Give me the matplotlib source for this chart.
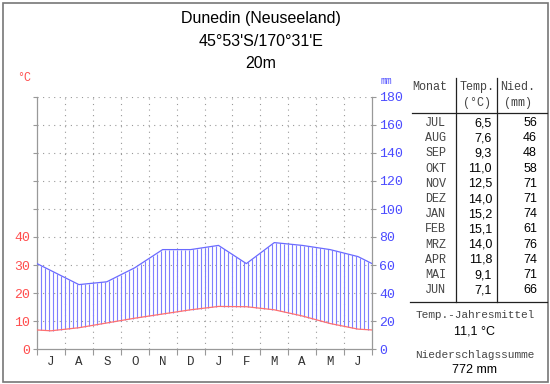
import matplotlib
matplotlib.use("Agg")
import matplotlib.pyplot as plt
import numpy as np

# Klimadaten Dunedin (Juli bis Juni)
monat = ['JUL', 'AUG', 'SEP', 'OKT', 'NOV', 'DEZ', 'JAN', 'FEB', 'MRZ', 'APR', 'MAI', 'JUN']
monat_kurz = ['J', 'A', 'S', 'O', 'N', 'D', 'J', 'F', 'M', 'A', 'M', 'J']
temp = [6.5, 7.6, 9.3, 11.0, 12.5, 14.0, 15.2, 15.1, 14.0, 11.8, 9.1, 7.1]
nied = [56, 46, 48, 58, 71, 71, 74, 61, 76, 74, 71, 66]
nied_ticks = [0, 20, 40, 60, 80, 100, 120, 140, 160, 180]
titel = ['Dunedin (Neuseeland)', "45°53'S/170°31'E", '20m']
jahresmittel = '11,1 °C'
jahressumme = '772 mm'

W, H = 550, 384
ROT = '#ff4d4d'
BLAU = '#4b4bff'
GRAU = '#999999'
MONO = 'Liberation Mono'
SANS = 'Liberation Sans'

fig = plt.figure(figsize=(W / 100, H / 100), dpi=100)
fig.patch.set_facecolor('white')


def px(x, y):
    # Pixelkoordinaten (oben links) -> Figurkoordinaten
    return x / W, 1 - y / H


# Rahmen um das ganze Bild
fig.add_artist(plt.Rectangle((2.5 / W, 2.5 / H), (W - 5) / W, (H - 5) / H,
                             transform=fig.transFigure, fill=False,
                             edgecolor='#777777', linewidth=1.2))

# Diagrammbereich
x0, x1, y0, y1 = 37, 372, 349, 97
ax = fig.add_axes([x0 / W, 1 - y0 / H, (x1 - x0) / W, (y0 - y1) / H])
ax.set_xlim(0, 12)
ax.set_ylim(0, 180)

# Werte an den Monatsmitten, Ränder als Mittel aus Juni und Juli
xm = np.arange(12) + 0.5
rand_t = (temp[0] + temp[-1]) / 2
rand_n = (nied[0] + nied[-1]) / 2
xs = np.concatenate([[0], xm, [12]])
ts = np.concatenate([[rand_t], temp, [rand_t]]) * 2  # 10 °C = 20 mm
ns = np.concatenate([[rand_n], nied, [rand_n]])

# humide Schraffur
xh = np.arange(0, 12.001, 1 / 7)
ax.vlines(xh, np.interp(xh, xs, ts), np.interp(xh, xs, ns),
          color='#7f7fff', linewidth=0.8, zorder=2)
ax.plot(xs, ns, color='#6a6aff', linewidth=0.9, zorder=3)
ax.plot(xs, ts, color='#ff7070', linewidth=0.9, zorder=3)

# Gitter
for v in range(1, 12):
    ax.plot([v, v], [0, 180], color=GRAU, linestyle=(0, (1, 4)), linewidth=0.8, zorder=1)
for v in nied_ticks[1:]:
    ax.plot([0, 12], [v, v], color=GRAU, linestyle=(0, (1, 4)), linewidth=0.8, zorder=1)

ax.spines['top'].set_visible(False)
for s in ['left', 'right', 'bottom']:
    ax.spines[s].set_color(GRAU)
    ax.spines[s].set_linewidth(0.9)

ax.set_xticks(range(13))
ax.set_xticklabels([])
ax.set_xticks(xm, minor=True)
ax.set_xticklabels(monat_kurz, minor=True, fontfamily=MONO, fontsize=9, color='#333333')
ax.tick_params(axis='x', which='major', length=4, color=GRAU, direction='out')
ax.tick_params(axis='x', which='minor', length=0, pad=5)

ax.set_yticks(nied_ticks)
ax.set_yticklabels([str(t // 2) if t <= 80 else '' for t in nied_ticks],
                   fontfamily=MONO, fontsize=9.5, color=ROT)
ax.tick_params(axis='y', length=3, color=GRAU, pad=2)

ax2 = ax.twinx()
ax2.set_ylim(0, 180)
ax2.set_yticks(nied_ticks)
ax2.set_yticklabels([str(t) for t in nied_ticks], fontfamily=MONO, fontsize=9.5, color=BLAU)
ax2.tick_params(axis='y', length=3, color=GRAU, pad=2)
for s in ax2.spines.values():
    s.set_visible(False)

fig.text(*px(24, 78), '°C', color=ROT, fontfamily=MONO, fontsize=8.5, ha='center', va='center')
fig.text(*px(386, 81), 'mm', color=BLAU, fontfamily=MONO, fontsize=7, ha='center', va='center')

# Titel
for zeile, y in zip(titel, [18, 42, 63]):
    fig.text(*px(261, y), zeile, fontfamily=SANS, fontsize=11.5, ha='center', va='center')

# Tabelle
kopf = dict(fontfamily=MONO, fontsize=8.5, color='#444444', ha='center', va='center')
fig.text(*px(430, 87), 'Monat', **kopf)
fig.text(*px(477, 87), 'Temp.', **kopf)
fig.text(*px(518, 87), 'Nied.', **kopf)
fig.text(*px(477, 103), '(°C)', **kopf)
fig.text(*px(518, 103), '(mm)', **kopf)

for i, (m, t, n) in enumerate(zip(monat, temp, nied)):
    y = 123 + i * 15.2
    fig.text(*px(446, y), m, fontfamily=MONO, fontsize=8.5, color='#444444', ha='right', va='center')
    fig.text(*px(492, y), f'{t:.1f}'.replace('.', ','), fontfamily=SANS, fontsize=9,
             ha='right', va='center')
    fig.text(*px(537, y), str(n), fontfamily=SANS, fontsize=9, ha='right', va='center')

linie = dict(color='#222222', linewidth=0.9)
fig.add_artist(plt.Line2D([412 / W, 547 / W], [1 - 113 / H] * 2, transform=fig.transFigure, **linie))
fig.add_artist(plt.Line2D([410 / W, 547 / W], [1 - 302 / H] * 2, transform=fig.transFigure, **linie))
fig.add_artist(plt.Line2D([456 / W] * 2, [1 - 78 / H, 1 - 302 / H], transform=fig.transFigure, **linie))
fig.add_artist(plt.Line2D([497 / W] * 2, [1 - 78 / H, 1 - 302 / H], transform=fig.transFigure, **linie))

fuss = dict(fontfamily=MONO, fontsize=8, color='#444444', ha='center', va='center')
fig.text(*px(475, 315), 'Temp.-Jahresmittel', **fuss)
fig.text(*px(475, 331), jahresmittel, fontfamily=SANS, fontsize=9, ha='center', va='center')
fig.text(*px(475, 355), 'Niederschlagssumme', **fuss)
fig.text(*px(475, 370), jahressumme, fontfamily=SANS, fontsize=9, ha='center', va='center')

fig.savefig('out.png', dpi=100)
